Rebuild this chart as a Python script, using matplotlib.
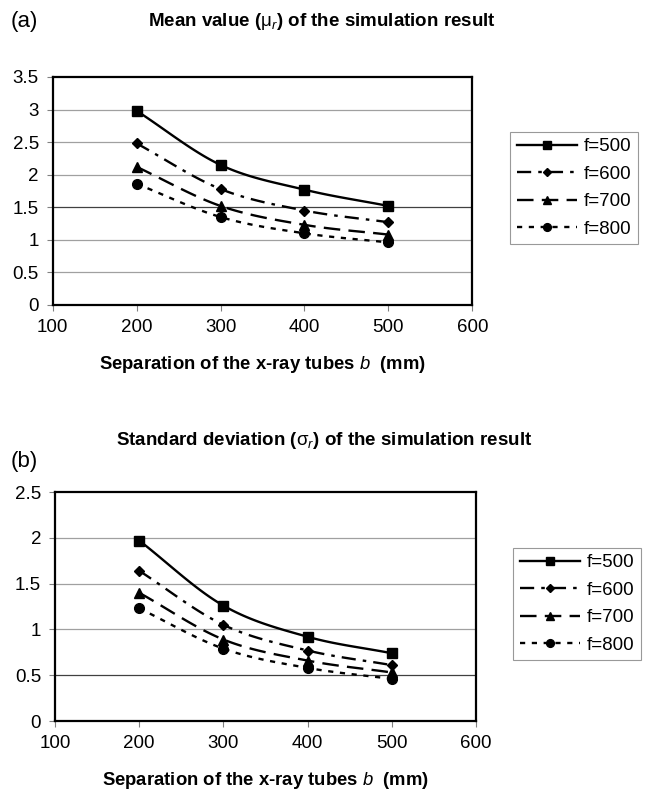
import numpy as np
import matplotlib
matplotlib.use("Agg")
import matplotlib.pyplot as plt

plt.rcParams['font.family'] = ['Liberation Sans', 'DejaVu Sans']
plt.rcParams['mathtext.fontset'] = 'custom'
plt.rcParams['mathtext.rm'] = 'Liberation Sans'
plt.rcParams['mathtext.it'] = 'Liberation Sans:italic'
plt.rcParams['mathtext.bf'] = 'Liberation Sans:bold'

# Data
b_sep = [200, 300, 400, 500]
labels = ['f=500', 'f=600', 'f=700', 'f=800']

mean_f500 = [2.98, 2.15, 1.77, 1.52]
mean_f600 = [2.48, 1.78, 1.45, 1.27]
mean_f700 = [2.12, 1.52, 1.23, 1.08]
mean_f800 = [1.86, 1.35, 1.10, 0.96]

std_f500 = [1.97, 1.26, 0.92, 0.74]
std_f600 = [1.64, 1.05, 0.77, 0.61]
std_f700 = [1.40, 0.89, 0.66, 0.53]
std_f800 = [1.23, 0.79, 0.58, 0.46]

markers = ['s', 'D', '^', 'o']
msizes = [7, 5.5, 7, 7]
dashes = [None, (6, 3, 1.5, 3), (7, 3.5), (2.2, 2.8)]


def smooth(x, y, n=30):
    # Catmull-Rom curve through the points, like Excel's smoothed line
    x = np.asarray(x, float)
    y = np.asarray(y, float)
    px = np.concatenate([[2 * x[0] - x[1]], x, [2 * x[-1] - x[-2]]])
    py = np.concatenate([[2 * y[0] - y[1]], y, [2 * y[-1] - y[-2]]])
    xs, ys = [], []
    t = np.linspace(0, 1, n)
    for i in range(1, len(px) - 2):
        for p, out in ((px, xs), (py, ys)):
            p0, p1, p2, p3 = p[i - 1], p[i], p[i + 1], p[i + 2]
            out.extend(0.5 * (2 * p1 + (-p0 + p2) * t
                              + (2 * p0 - 5 * p1 + 4 * p2 - p3) * t ** 2
                              + (-p0 + 3 * p1 - 3 * p2 + p3) * t ** 3))
    return np.array(xs), np.array(ys)


def draw_panel(ax, series, ymax, dark_level, legend_pos):
    ax.set_xlim(100, 600)
    ax.set_ylim(0, ymax)
    ax.set_xticks(np.arange(100, 601, 100))
    ax.set_yticks(np.arange(0, ymax + 0.01, 0.5))
    ax.set_yticklabels(['%g' % v for v in np.arange(0, ymax + 0.01, 0.5)])
    for v in np.arange(0.5, ymax, 0.5):
        col = '#404040' if abs(v - dark_level) < 1e-6 else '#a0a0a0'
        ax.axhline(v, color=col, lw=0.9, zorder=1)
    handles = []
    for vals, lab, m, ms, d in zip(series, labels, markers, msizes, dashes):
        sx, sy = smooth(b_sep, vals)
        line, = ax.plot(sx, sy, color='black', lw=1.7, zorder=3)
        if d is not None:
            line.set_dashes(d)
        ax.plot(b_sep, vals, ls='none', marker=m, ms=ms, color='black', zorder=4)
        h, = ax.plot([], [], color='black', lw=1.7, marker=m, ms=ms * 0.8, label=lab)
        if d is not None:
            h.set_dashes(d)
        handles.append(h)
    for s in ax.spines.values():
        s.set_linewidth(1.6)
        s.set_color('black')
    ax.tick_params(direction='out', length=4, width=0.8, color='#808080',
                   labelsize=13.5, pad=6)
    ax.set_xlabel(r'Separation of the x-ray tubes $\it{b}$  (mm)', fontsize=13.3,
                  fontweight='bold', labelpad=13)
    leg = ax.figure.legend(handles=handles, loc='upper left', bbox_to_anchor=legend_pos,
                           bbox_transform=ax.figure.transFigure, borderaxespad=0,
                           fontsize=13.5, handlelength=3.2, handletextpad=0.4,
                           labelspacing=0.55, borderpad=0.35, frameon=True, fancybox=False)
    leg.get_frame().set_edgecolor('#808080')
    leg.get_frame().set_linewidth(0.8)


fig = plt.figure(figsize=(6.52, 7.94), dpi=100)
ax1 = fig.add_axes([0.0808, 0.6159, 0.6436, 0.2872])
ax2 = fig.add_axes([0.0844, 0.0919, 0.6457, 0.2884])

draw_panel(ax1, [mean_f500, mean_f600, mean_f700, mean_f800], 3.5, 1.5,
           (510 / 652, 1 - 131.5 / 794))
draw_panel(ax2, [std_f500, std_f600, std_f700, std_f800], 2.5, 0.5,
           (513 / 652, 1 - 547.5 / 794))

fig.text(11 / 652, 1 - 22 / 794, '(a)', fontsize=16, va='center', ha='left')
fig.text(322 / 652, 1 - 21 / 794, r'Mean value ($\mathrm{\mu}_{r}$) of the simulation result',
         fontsize=13.5, fontweight='bold', va='center', ha='center')
fig.text(11 / 652, 1 - 462 / 794, '(b)', fontsize=16, va='center', ha='left')
fig.text(324 / 652, 1 - 441 / 794, r'Standard deviation ($\mathrm{\sigma}_{r}$) of the simulation result',
         fontsize=13.5, fontweight='bold', va='center', ha='center')

fig.savefig('out.png', dpi=100)
